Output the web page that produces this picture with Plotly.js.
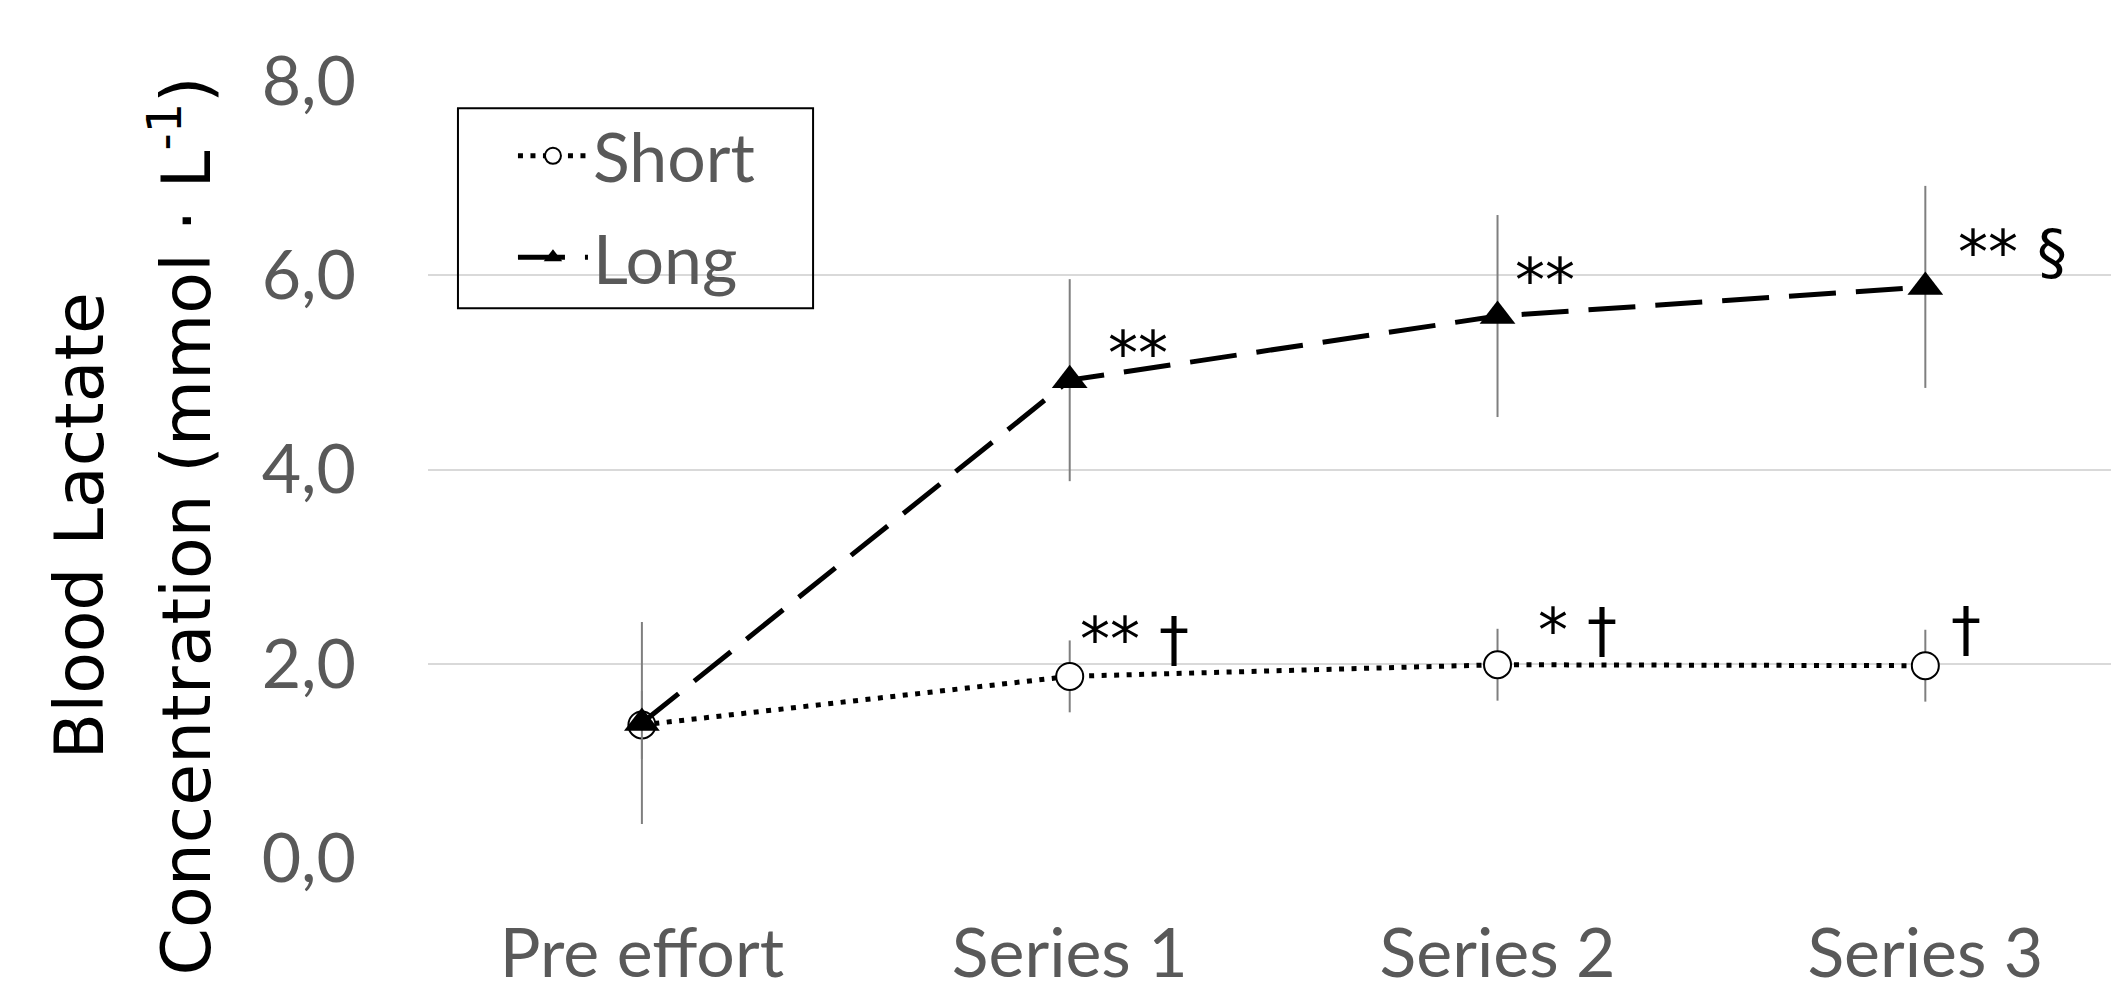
<!DOCTYPE html>
<html>
<head>
<meta charset="utf-8">
<script src="https://cdn.plot.ly/plotly-3.0.1.min.js"></script>
<style>html,body{margin:0;padding:0;background:#fff;}#chart{width:2111px;height:981px;}</style>
</head>
<body>
<div id="chart"></div>
<script>
// ---- data ----
const categories = ["Pre effort", "Series 1", "Series 2", "Series 3"];
const shortMean = [1.37, 1.87, 1.99, 1.98];
const shortSD   = [0.35, 0.37, 0.37, 0.37];
const longMean  = [1.39, 4.92, 5.58, 5.88];
const longSD    = [1.04, 1.04, 1.04, 1.04];
const seriesNames = ["Short", "Long"];
const yTitleLines = ["Blood Lactate", "Concentration (mmol · L<sup>-1</sup>)"];
const sigLabels = ["**", "**", "** §", "** †", "* †", "†"];

// ---- styling / placement ----
const gray = '#595959';
const tickFont = {family: 'Lato, "Open Sans", sans-serif', size: 68, color: gray};
const sigFont = {family: '"DejaVu Sans", sans-serif', size: 60, color: '#000'};
const titleFont = {family: '"DejaVu Sans", sans-serif', size: 68, color: '#000'};

const traces = [
  {
    x: categories, y: shortMean, name: seriesNames[0], type: 'scatter', mode: 'lines+markers',
    legendgroup: 'g1',
    line: {color: '#000', width: 5, dash: '5px,7.5px'},
    marker: {symbol: 'circle', size: 27, color: '#fff', line: {color: '#000', width: 2}},
    error_y: {type: 'data', array: shortSD, visible: true, color: '#7f7f7f', thickness: 2, width: 0}
  },
  {
    x: categories, y: longMean, name: seriesNames[1], type: 'scatter', mode: 'lines+markers',
    legendgroup: 'g2',
    line: {color: '#000', width: 5, dash: '47px,20px'},
    marker: {symbol: 'triangle-up', size: 31, color: '#000', line: {width: 0}},
    error_y: {type: 'data', array: longSD, visible: true, color: '#7f7f7f', thickness: 2, width: 0}
  }
];

// annotation positions (axis units) for significance marks
const sigPos = [
  [1.159, 5.20], [2.112, 5.95], [3.203, 6.24],
  [1.152, 2.25], [2.187, 2.35], [3.096, 2.36]
];
const annotations = sigLabels.map((t, i) => ({
  text: t, x: sigPos[i][0], y: sigPos[i][1], xref: 'x', yref: 'y',
  showarrow: false, xanchor: 'center', yanchor: 'middle', font: sigFont
}));
annotations.push({
  text: yTitleLines[0], xref: 'paper', yref: 'paper', x: -0.2074, y: 0.428,
  textangle: -90, showarrow: false, xanchor: 'center', yanchor: 'middle', font: titleFont
});
annotations.push({
  text: yTitleLines[1], xref: 'paper', yref: 'paper', x: -0.1462, y: 0.428,
  textangle: -90, showarrow: false, xanchor: 'center', yanchor: 'middle', font: titleFont
});

const layout = {
  width: 2111, height: 981,
  margin: {l: 428, r: 0, t: 81, b: 123},
  paper_bgcolor: '#fff', plot_bgcolor: '#fff',
  separators: ', ',
  showlegend: true,
  legend: {
    x: 0.0178, y: 0.969, xanchor: 'left', yanchor: 'top',
    borderwidth: 0, bgcolor: 'rgba(0,0,0,0)',
    font: tickFont, itemwidth: 70, indentation: 55, tracegroupgap: 10
  },
  shapes: [{
    type: 'rect', xref: 'paper', yref: 'paper',
    x0: 0.0178, x1: 0.2288, y0: 0.7075, y1: 0.965,
    line: {color: '#000', width: 2}, fillcolor: 'rgba(0,0,0,0)', layer: 'above'
  }],
  xaxis: {
    type: 'category', range: [-0.5, 3.434], showgrid: false, zeroline: false,
    showline: false, ticks: '', tickfont: tickFont, ticklabelstandoff: 50, fixedrange: true
  },
  yaxis: {
    range: [0, 8], dtick: 2, tick0: 0, tickformat: '.1f',
    showgrid: true, gridcolor: '#d9d9d9', gridwidth: 2,
    zeroline: false, showline: false, ticks: '', tickfont: tickFont,
    ticklabelstandoff: 71, fixedrange: true
  },
  annotations: annotations
};

Plotly.newPlot('chart', traces, layout, {displayModeBar: false, staticPlot: true});
</script>
</body>
</html>
